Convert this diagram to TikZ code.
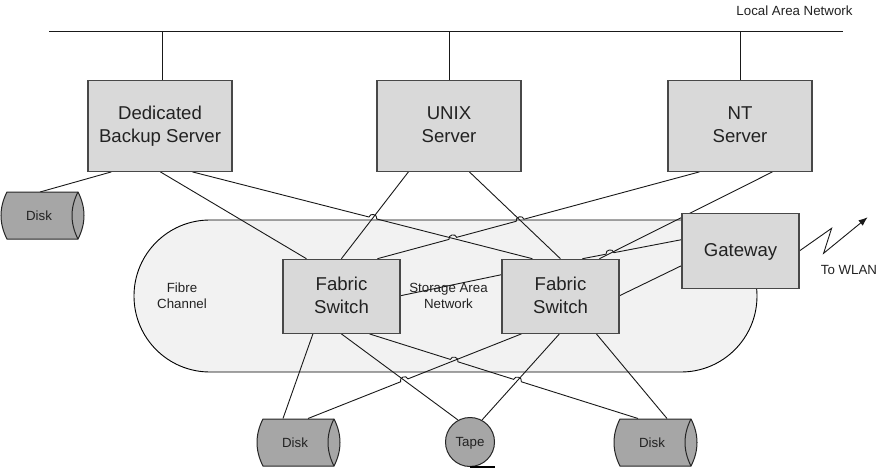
\documentclass[tikz,border=0pt]{standalone}
\usepackage{fontspec}
\setmainfont{Liberation Sans}
\usetikzlibrary{calc,arrows.meta}
\definecolor{boxfill}{HTML}{D9D9D9}
\definecolor{boxline}{HTML}{484848}
\definecolor{capfill}{HTML}{F2F2F2}
\definecolor{diskfill}{HTML}{A6A6A6}
\definecolor{inktext}{HTML}{222222}
\pgfdeclarelayer{back}
\pgfdeclarelayer{wires}
\pgfsetlayers{back,wires,main}
\newcommand{\bs}{\rule[-5.9pt]{0pt}{23pt}}
\tikzset{
  unitbox/.style={draw=boxline,fill=boxfill,line width=1.2pt,inner sep=0pt,align=center,text=inktext,
    font=\fontsize{18.6}{23}\selectfont},
  small/.style={inner sep=0pt,align=center,text=inktext,font=\fontsize{13.3}{16}\selectfont},
  wire/.style={draw=black!90,line width=0.9pt},
  hopup/.style={out=90,in=90,relative,looseness=1.5},
  diskbody/.style={draw=black!85,fill=diskfill,line width=1pt},
}
\newcommand{\diskat}[3]{%
  \draw[diskbody,shift={(#2,#3)}] (-32,-23.5) -- (39,-23.5)
     .. controls (47,-8) and (47,8) .. (39,23.5) -- (-32,23.5)
     .. controls (-40,8) and (-40,-8) .. cycle;
  \draw[diskbody,fill=none,shift={(#2,#3)}] (39,-23.5) .. controls (31,-8) and (31,8) .. (39,23.5);
  \node[small] (#1) at (#2,#3) {Disk};
}
\newcommand{\crossat}[5]{\coordinate (#1) at (intersection cs:first line={(#2)--(#3)},second line={(#4)--(#5)});}
\begin{document}
\begin{tikzpicture}[x=1pt,y=-1pt]
\useasboundingbox (0,0) rectangle (889,468);
\begin{pgfonlayer}{back}
\fill[white] (0,0) rectangle (889,468);
\node[draw=black,fill=capfill,line width=0.9pt,minimum width=623pt,minimum height=152pt,rounded corners=75.9pt,inner sep=0pt] (fc) at (445.5,296) {};
\end{pgfonlayer}

% Servers
\node[unitbox,minimum width=144pt,minimum height=91pt] (bk) at (160,125.8) {Dedicated\bs\\Backup Server\bs};
\node[unitbox,minimum width=144pt,minimum height=91pt] (ux) at (449,125.8) {UNIX\bs\\Server\bs};
\node[unitbox,minimum width=144pt,minimum height=91pt] (nt) at (740,125.8) {NT\bs\\Server\bs};
% Switches and gateway
\node[unitbox,minimum width=117pt,minimum height=74pt] (f1) at (341.5,296.3) {Fabric\bs\\Switch\bs};
\node[unitbox,minimum width=117pt,minimum height=74pt] (f2) at (560.5,296.3) {Fabric\bs\\Switch\bs};
\node[unitbox,minimum width=117pt,minimum height=75pt] (gw) at (740.5,250.8) {Gateway\bs};
% Storage devices
\diskat{d1}{39}{215.5}
\diskat{d2}{295}{442.5}
\diskat{d3}{652}{442.5}
\node[draw=black!85,fill=diskfill,circle,line width=1pt,minimum size=49pt,inner sep=0pt,small] (tp) at (470,442) {\rule{0pt}{11.6pt}Tape};
\draw[black,line width=1.5pt] (tp.south) -- ++(25,0);
% Labels
\node[small] (lanlabel) at (794.5,11) {Local Area Network};
\node[small] (fclabel) at (182,296) {Fibre\\Channel};
\node[small] (sanlabel) at (448.5,296) {Storage Area\\Network};
\node[small] (wlan) at (849,270) {To WLAN};

% Ports
\coordinate (lanL) at (49,31);
\coordinate (lanR) at (843,31);
\coordinate (bkt) at ($(bk.north)+(2,0)$);
\coordinate (bkD) at ($(bk.south west)+(24,0)$);
\coordinate (bkF) at ($(bk.south west)+(73,0)$);
\coordinate (bkG) at ($(bk.south west)+(105,0)$);
\coordinate (uxA) at ($(ux.south west)+(32,0)$);
\coordinate (uxB) at ($(ux.south west)+(93,0)$);
\coordinate (ntA) at ($(nt.south west)+(32,0)$);
\coordinate (ntB) at ($(nt.south west)+(105,0)$);
\coordinate (f1a) at ($(f1.north west)+(24,0)$);
\coordinate (f1b) at ($(f1.north west)+(59,0)$);
\coordinate (f1c) at ($(f1.north west)+(95,0)$);
\coordinate (f1r) at ($(f1.north east)+(0,37)$);
\coordinate (f1s) at ($(f1.south west)+(30.5,0)$);
\coordinate (f1t) at ($(f1.south west)+(59,0)$);
\coordinate (f1u) at ($(f1.south west)+(87,0)$);
\coordinate (f2a) at ($(f2.north west)+(31,0)$);
\coordinate (f2b) at ($(f2.north west)+(59,0)$);
\coordinate (f2c) at ($(f2.north west)+(81,0)$);
\coordinate (f2d) at ($(f2.north west)+(98,0)$);
\coordinate (f2l) at ($(f2.north west)+(0,16)$);
\coordinate (f2r) at ($(f2.north east)+(0,37)$);
\coordinate (f2s) at ($(f2.south west)+(20,0)$);
\coordinate (f2t) at ($(f2.south west)+(58,0)$);
\coordinate (f2u) at ($(f2.south west)+(95,0)$);
\coordinate (gwA) at ($(gw.north west)+(0,27)$);
\coordinate (gwB) at ($(gw.north west)+(0,53)$);
\coordinate (d1t) at ($(d1)+(1,-23.5)$);
\coordinate (d2a) at ($(d2)+(-12,-24)$);
\coordinate (d2b) at ($(d2)+(13,-24)$);
\coordinate (d3a) at ($(d3)+(-14,-24)$);
\coordinate (d3b) at ($(d3)+(15,-24)$);
\coordinate (tpA) at ($(tp)+(-12,-22)$);
\coordinate (tpB) at ($(tp)+(12,-22)$);
\coordinate (wl1) at ($(gw.east)+(32,-22.5)$);
\coordinate (wl2) at ($(gw.east)+(24,2.5)$);
\coordinate (wl3) at ($(gw.east)+(68,-33.5)$);

% Crossings
\crossat{x1}{bkG}{f2a}{uxA}{f1b}
\crossat{x2}{ntA}{f1c}{bkG}{f2a}
\crossat{x3}{ntA}{f1c}{uxB}{f2b}
\crossat{x4}{f2c}{gwA}{ntB}{f2d}
\crossat{x5}{f1u}{d3a}{f2s}{d2b}
\crossat{x6}{d2b}{f2s}{f1t}{tpA}
\crossat{x7}{f1u}{d3a}{f2t}{tpB}

\begin{pgfonlayer}{wires}
\draw[wire] (lanL) -- (lanR);
\draw[wire] (bkt) -- (bkt |- lanL);
\draw[wire] (ux.north) -- (ux.north |- lanL);
\draw[wire] (nt.north) -- (nt.north |- lanL);
\draw[wire] (bkD) -- (d1t);
\draw[wire] (bkF) -- (f1a);
\draw[wire] (bkG) -- ($(x1)!4pt!(bkG)$) to[hopup] ($(x1)!4pt!(f2a)$) -- (f2a);
\draw[wire] (uxA) -- (f1b);
\draw[wire] (uxB) -- (f2b);
\draw[wire] (f1c) -- ($(x2)!4pt!(f1c)$) to[hopup] ($(x2)!4pt!(ntA)$)
   -- ($(x3)!4pt!(f1c)$) to[hopup] ($(x3)!4pt!(ntA)$) -- (ntA);
\draw[wire] (ntB) -- (f2d);
\draw[wire] (f2c) -- ($(x4)!4pt!(f2c)$) to[hopup] ($(x4)!4pt!(gwA)$) -- (gwA);
\draw[wire] (f2r) -- (gwB);
\draw[wire] (f1r) -- (f2l);
\draw[wire] (f1s) -- (d2a);
\draw[wire] (f1t) -- (tpA);
\draw[wire] (f1u) -- ($(x5)!4pt!(f1u)$) to[hopup] ($(x5)!4pt!(d3a)$)
   -- ($(x7)!4pt!(f1u)$) to[hopup] ($(x7)!4pt!(d3a)$) -- (d3a);
\draw[wire] (d2b) -- ($(x6)!4pt!(d2b)$) to[hopup] ($(x6)!4pt!(f2s)$) -- (f2s);
\draw[wire] (f2t) -- (tpB);
\draw[wire] (f2u) -- (d3b);
\draw[wire,-{Latex[length=9pt,width=7pt]}] (gw.east) -- (wl1) -- (wl2) -- (wl3);
\end{pgfonlayer}
\end{tikzpicture}
\end{document}
